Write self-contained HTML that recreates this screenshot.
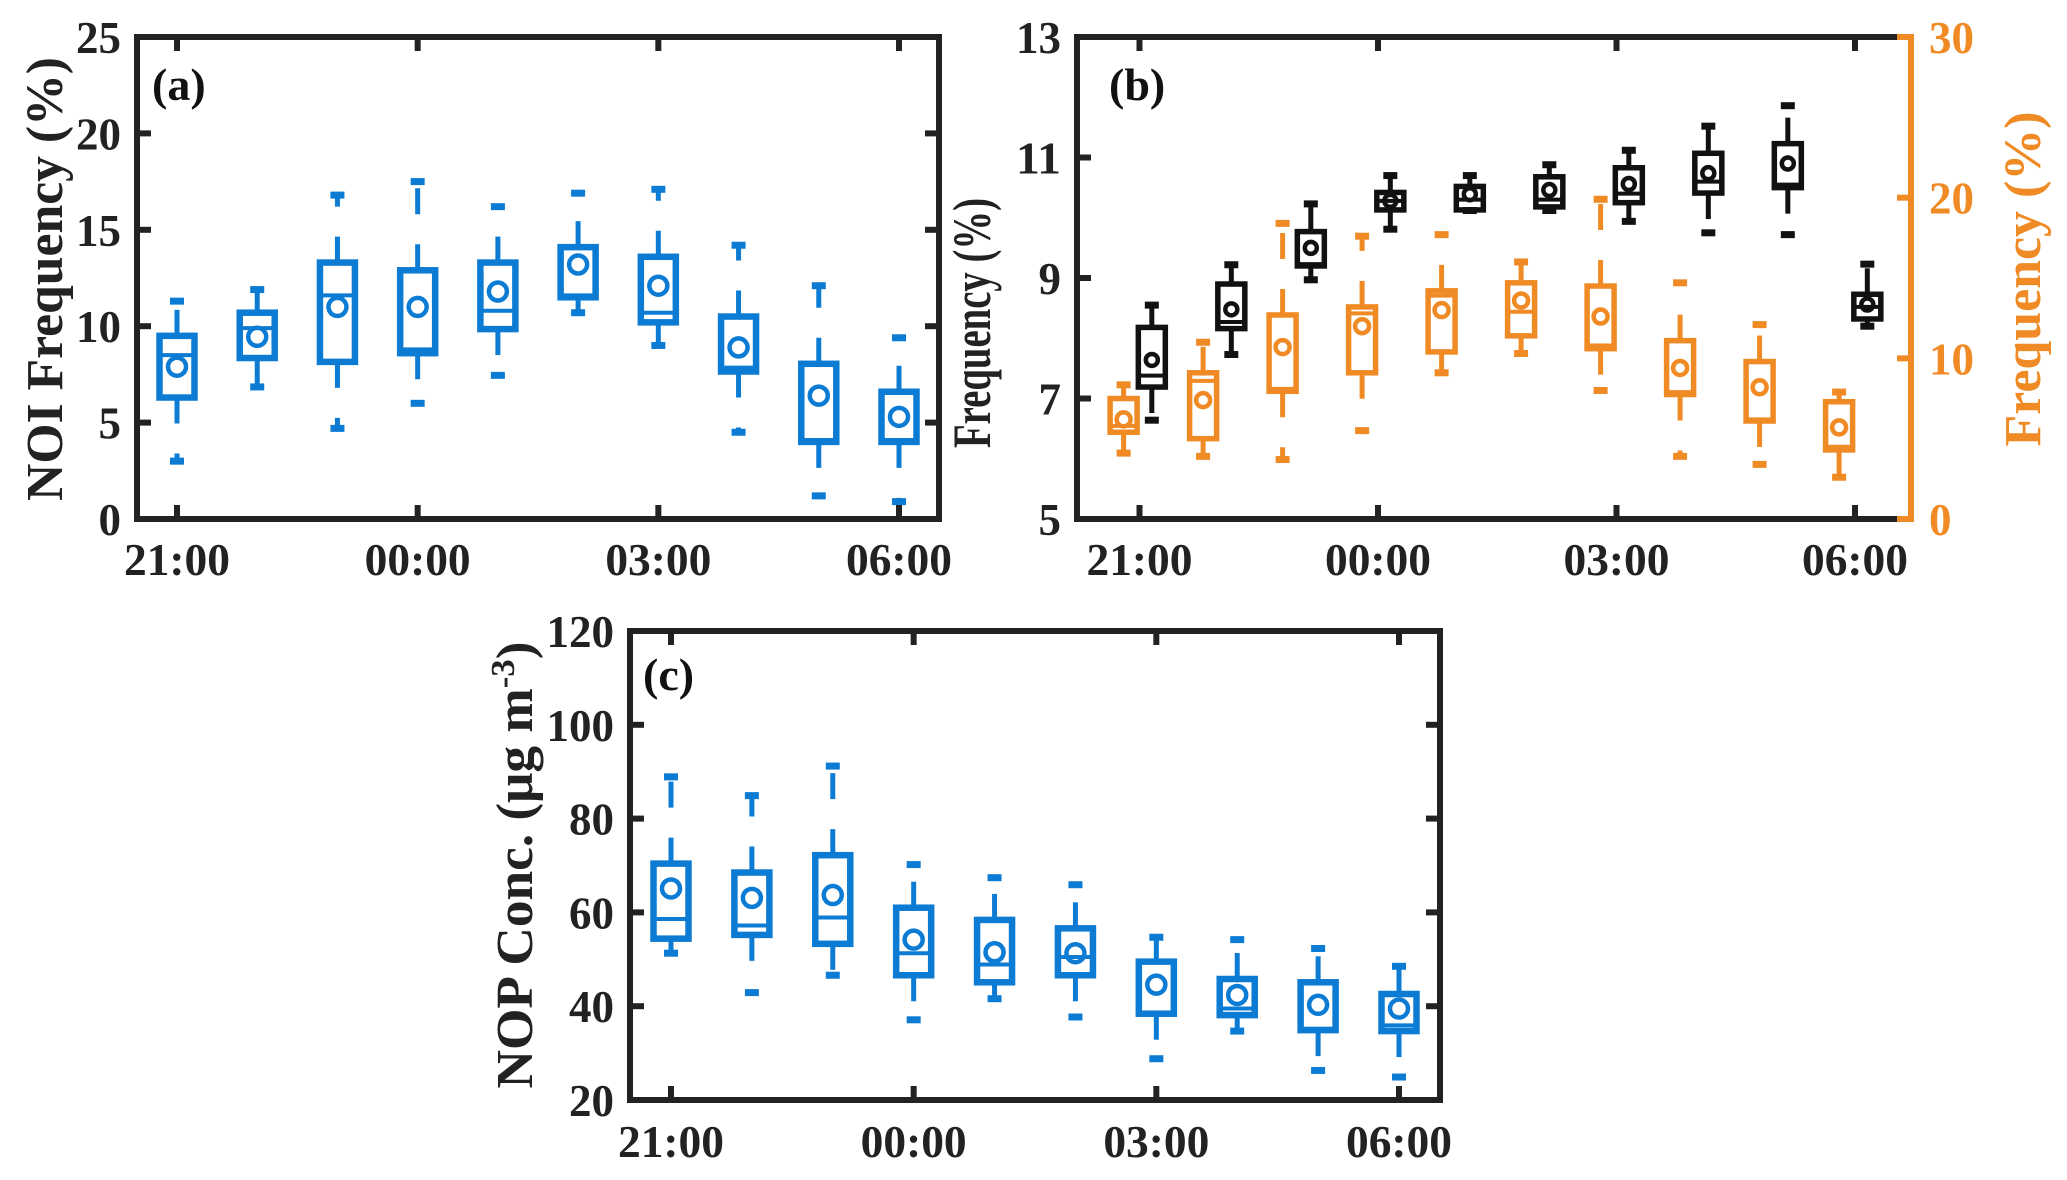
<!DOCTYPE html>
<html><head><meta charset="utf-8">
<style>
html,body{margin:0;padding:0;background:#fff;}
svg{display:block;font-family:"Liberation Serif",serif;font-weight:bold;}
</style></head>
<body>
<svg id="fig" width="2067" height="1180" viewBox="0 0 2067 1180" xmlns="http://www.w3.org/2000/svg">
</svg>
<script>
// ---- shared categories ----
const hours = [0,1,2,3,4,5,6,7,8,9]; // hours after 21:00
const xTickLabels = ["21:00","00:00","03:00","06:00"];
const xTickHours = [0,3,6,9];

// ---- panel (a) NOI frequency ----
const aMax  = [11.3,11.9,16.8,17.5,16.2,16.9,17.1,14.2,12.1,9.4];
const aQ3   = [9.5,10.7,13.3,12.9,13.3,14.1,13.6,10.5,8.05,6.6];
const aMed  = [8.5,9.9,11.6,8.8,10.8,11.6,10.7,7.85,4.1,4.1];
const aQ1   = [6.3,8.35,8.15,8.6,9.85,11.5,10.2,7.65,4.0,4.0];
const aMin  = [3.0,6.85,4.7,6.0,7.45,10.7,9.0,4.5,1.2,0.9];
const aMean = [7.9,9.45,11.0,11.0,11.8,13.2,12.1,8.9,6.4,5.3];
const aYTicks = [0,5,10,15,20,25];

// ---- panel (b) black series (left axis) ----
const bkMax  = [8.55,9.22,10.23,10.70,10.70,10.88,11.12,11.52,11.86,9.23];
const bkQ3   = [8.18,8.9,9.77,10.42,10.52,10.68,10.83,11.07,11.23,8.73];
const bkMed  = [7.38,8.27,9.23,10.28,10.3,10.3,10.4,10.6,10.55,8.52];
const bkQ1   = [7.19,8.16,9.2,10.13,10.13,10.18,10.25,10.41,10.5,8.32];
const bkMin  = [6.64,7.73,8.97,9.81,10.12,10.12,9.94,9.75,9.72,8.2];
const bkMean = [7.64,8.48,9.5,10.28,10.39,10.46,10.56,10.74,10.9,8.56];
const bLeftTicks = [5,7,9,11,13];
// ---- panel (b) orange series (right axis) ----
const orMax  = [8.35,11.0,18.4,17.6,17.7,16.0,19.9,14.7,12.1,7.9];
const orQ3   = [7.5,9.1,12.7,13.2,14.2,14.7,14.5,11.1,9.8,7.3];
const orMed  = [5.8,8.6,8.1,12.8,13.9,12.9,10.8,7.9,6.2,4.5];
const orQ1   = [5.4,5.0,7.95,9.1,10.4,11.4,10.6,7.75,6.1,4.3];
const orMin  = [4.1,3.9,3.7,5.5,9.1,10.3,8.0,3.9,3.4,2.6];
const orMean = [6.2,7.4,10.7,12.0,13.0,13.6,12.6,9.4,8.2,5.7];
const bRightTicks = [0,10,20,30];

// ---- panel (c) NOP concentration ----
const cMax  = [88.9,84.9,91.2,70.2,67.4,65.9,54.7,54.2,52.3,48.5];
const cQ3   = [70.4,68.5,72.2,61.0,58.4,56.6,49.5,45.8,45.1,42.6];
const cMed  = [58.6,57.2,58.9,51.3,48.9,50.5,38.6,39.5,35.2,35.9];
const cQ1   = [54.4,55.2,53.3,46.6,45.1,46.6,38.4,38.1,34.9,34.7];
const cMin  = [51.3,42.9,46.6,37.1,41.6,37.7,28.8,34.7,26.3,24.9];
const cMean = [65.1,63.1,63.7,54.2,51.5,51.3,44.6,42.4,40.3,39.5];
const cYTicks = [20,40,60,80,100,120];

const NS="http://www.w3.org/2000/svg";
const svg=document.getElementById('fig');
function mk(tag,attrs,parent){const e=document.createElementNS(NS,tag);for(const k in attrs)e.setAttribute(k,attrs[k]);(parent||svg).appendChild(e);return e;}

function lin(d0,d1,r0,r1){return v=>r0+(v-d0)*(r1-r0)/(d1-d0);}

function drawBoxes(g,xs,ys,offH,col,bw,r,arrs,name,sw){
  const [mx,q3,md,q1,mn,me]=arrs;
  hours.forEach((h,i)=>{
    const cx=xs(h+offH);
    const bg=mk('g',{},g);
    
    
    mk('line',{x1:cx,x2:cx,y1:ys(q3[i]),y2:ys(mx[i]),stroke:col,'stroke-width':5,'stroke-dasharray':'26 30'},bg);
    mk('line',{x1:cx,x2:cx,y1:ys(q1[i]),y2:ys(mn[i]),stroke:col,'stroke-width':5,'stroke-dasharray':'26 30'},bg);
    mk('line',{x1:cx-7,x2:cx+7,y1:ys(mx[i]),y2:ys(mx[i]),stroke:col,'stroke-width':7},bg);
    mk('line',{x1:cx-7,x2:cx+7,y1:ys(mn[i]),y2:ys(mn[i]),stroke:col,'stroke-width':7},bg);
    mk('rect',{x:cx-bw/2,y:ys(q3[i]),width:bw,height:Math.max(1,ys(q1[i])-ys(q3[i])),fill:'none',stroke:col,'stroke-width':sw},bg);
    mk('line',{x1:cx-bw/2,x2:cx+bw/2,y1:ys(md[i]),y2:ys(md[i]),stroke:col,'stroke-width':4},bg);
    mk('circle',{cx:cx,cy:ys(me[i]),r:r,fill:'none',stroke:col,'stroke-width':4.5},bg);
  });
}

function frame(g,L,R,T,B,col){
  mk('rect',{x:L,y:T,width:R-L,height:B-T,fill:'none',stroke:col||'#222','stroke-width':6},g);
}
function xAxis(g,xs,T,B,labY,name){
  xTickHours.forEach((h,i)=>{
    const x=xs(h);
    mk('line',{x1:x,x2:x,y1:B,y2:B-14,stroke:'#222','stroke-width':6},g);
    mk('line',{x1:x,x2:x,y1:T,y2:T+14,stroke:'#222','stroke-width':6},g);
    const t=mk('text',{x:x,y:labY,'text-anchor':'middle','font-size':46,textLength:106,lengthAdjust:'spacingAndGlyphs',fill:'#222'},g);
    
    
    t.textContent=xTickLabels[i];
  });
}
function yAxis(g,ys,ticks,L,R,labX,anchor,col,name,mirror){
  ticks.forEach(v=>{
    const y=ys(v);
    mk('line',{x1:L,x2:L+(anchor==='end'?14:-14),y1:y,y2:y,stroke:col,'stroke-width':6},g);
    if(mirror) mk('line',{x1:R,x2:R-14,y1:y,y2:y,stroke:col,'stroke-width':6},g);
    const s=String(v);
    const t=mk('text',{x:labX,y:y+16,'text-anchor':anchor,'font-size':46,textLength:s.length*22.5,lengthAdjust:'spacingAndGlyphs',fill:col},g);
    
    
    t.textContent=s;
  });
}
function vlabel(g,cx,cy,len,fs,col,name){
  const t=mk('text',{x:0,y:0,transform:`translate(${cx},${cy}) rotate(-90)`,'text-anchor':'middle','font-size':fs,textLength:len,lengthAdjust:'spacingAndGlyphs',fill:col},g);
  
  
  return t;
}
function panelTag(g,x,y,s,name){
  const t=mk('text',{x:x,y:y,'font-size':46,fill:'#111'},g);
  
  
  t.textContent=s;
}

// ===== Panel (a) =====
{
  const g=mk('g',{});
  
  
  const L=137,R=939,T=37,B=519;
  const xs=lin(0,9,177,899), ys=lin(0,25,B,T);
  drawBoxes(g,xs,ys,0,'#0c7bd3',35,9,[aMax,aQ3,aMed,aQ1,aMin,aMean],'noi',6.5);
  frame(g,L,R,T,B);
  xAxis(g,xs,T,B,575,'panel-a');
  yAxis(g,ys,aYTicks,L,R,121,'end','#222','panel-a',true);
  vlabel(g,62,279,444,52,'#222','panel-a-y-axis-title').textContent='NOI Frequency (%)';
  panelTag(g,152,100,'(a)','panel-a-label');
}
// ===== Panel (b) =====
{
  const g=mk('g',{});
  
  
  const L=1077,R=1911,T=37,B=519;
  const xs=lin(0,9,1139.5,1855);
  const ysL=lin(5,13,B,T), ysR=lin(0,30,B,T);
  drawBoxes(g,xs,ysR,-0.2,'#f08a24',27,7,[orMax,orQ3,orMed,orQ1,orMin,orMean],'orange',5.5);
  drawBoxes(g,xs,ysL,0.155,'#111',27,6,[bkMax,bkQ3,bkMed,bkQ1,bkMin,bkMean],'black',5.5);
  mk('line',{x1:L,x2:R,y1:T,y2:T,stroke:'#222','stroke-width':6},g);
  mk('line',{x1:L,x2:R,y1:B,y2:B,stroke:'#222','stroke-width':6},g);
  mk('line',{x1:L,x2:L,y1:T-3,y2:B+3,stroke:'#222','stroke-width':6},g);
  mk('line',{x1:R,x2:R,y1:T-3,y2:B+3,stroke:'#f08a24','stroke-width':6},g);
  xAxis(g,xs,T,B,575,'panel-b');
  yAxis(g,ysL,bLeftTicks,L,R,1061,'end','#222','panel-b-left',false);
  yAxis(g,ysR,bRightTicks,R,R,1929,'start','#f08a24','panel-b-right',false);
  vlabel(g,990,323,250,54,'#222','panel-b-left-y-axis-title').textContent='Frequency (%)';
  vlabel(g,2040,279,335,52,'#f08a24','panel-b-right-y-axis-title').textContent='Frequency (%)';
  panelTag(g,1109,100,'(b)','panel-b-label');
}
// ===== Panel (c) =====
{
  const g=mk('g',{});
  
  
  const L=630,R=1440,T=631,B=1100;
  const xs=lin(0,9,671,1399), ys=lin(20,120,B,T);
  drawBoxes(g,xs,ys,0,'#0c7bd3',35,9,[cMax,cQ3,cMed,cQ1,cMin,cMean],'nop',6.5);
  frame(g,L,R,T,B);
  xAxis(g,xs,T,B,1157,'panel-c');
  yAxis(g,ys,cYTicks,L,R,614,'end','#222','panel-c',true);
  const t=vlabel(g,532,865,447,52,'#222','panel-c-y-axis-title');
  t.textContent='NOP Conc. (μg m';
  const sup=mk('tspan',{dy:-18,'font-size':34},t);sup.textContent='-3';
  const cl=mk('tspan',{dy:18},t);cl.textContent=')';
  panelTag(g,643,690,'(c)','panel-c-label');
}
</script>
</body></html>
